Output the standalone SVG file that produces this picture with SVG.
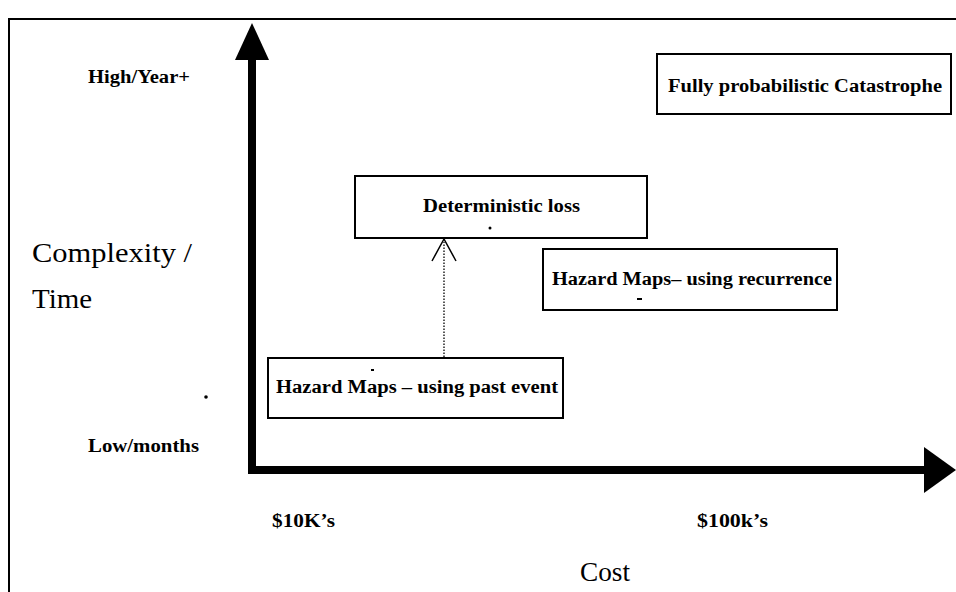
<svg xmlns="http://www.w3.org/2000/svg" width="956" height="592" viewBox="0 0 956 592">
  <style>
    .frame { fill: none; stroke: #000; stroke-width: 2; }
    .box { fill: #fff; stroke: #000; stroke-width: 2; }
    .axis { stroke: #000; stroke-width: 8; fill: none; }
    .head { fill: #000; }
    .lbl { font-family: "Liberation Serif", "Times New Roman", serif; font-weight: bold; font-size: 18px; fill: #000; }
    .big { font-family: "Liberation Serif", "Times New Roman", serif; font-size: 27px; fill: #000; }
    .dotted { stroke: #000; stroke-width: 1.3; stroke-dasharray: 1.5 1.5; fill: none; }
    .open { stroke: #000; stroke-width: 1.5; fill: none; }
    .speck { fill: #000; }
  </style>
  <rect width="956" height="592" fill="#fff"/>

  <!-- page frame -->
  <path class="frame" d="M9,592 V19 H956"/>

  <!-- axes -->
  <g id="axes">
    <path class="axis" d="M252,60 V470 H926"/>
    <polygon class="head" points="252,23 235,60 269,60"/>
    <polygon class="head" points="956,470 924,447 924,493"/>
  </g>

  <!-- axis labels -->
  <g id="y-labels">
    <text class="lbl" x="88" y="83" textLength="102" lengthAdjust="spacingAndGlyphs">High/Year+</text>
    <text class="big" x="32" y="262" textLength="160" lengthAdjust="spacingAndGlyphs">Complexity /</text>
    <text class="big" x="32" y="308" textLength="60" lengthAdjust="spacingAndGlyphs">Time</text>
    <text class="lbl" x="88" y="452" textLength="111" lengthAdjust="spacingAndGlyphs">Low/months</text>
  </g>
  <g id="x-labels">
    <text class="lbl" x="272" y="527" textLength="63" lengthAdjust="spacingAndGlyphs">$10K’s</text>
    <text class="lbl" x="697" y="527" textLength="71" lengthAdjust="spacingAndGlyphs">$100k’s</text>
    <text class="big" x="580" y="581" textLength="50" lengthAdjust="spacingAndGlyphs">Cost</text>
  </g>

  <!-- method boxes -->
  <g id="fully-probabilistic">
    <rect class="box" x="657" y="54" width="294" height="60"/>
    <text class="lbl" x="668" y="92" textLength="274" lengthAdjust="spacingAndGlyphs">Fully probabilistic Catastrophe</text>
  </g>
  <g id="deterministic-loss">
    <rect class="box" x="355" y="176" width="292" height="62"/>
    <text class="lbl" x="423" y="212" textLength="157" lengthAdjust="spacingAndGlyphs">Deterministic loss</text>
    <circle class="speck" cx="490" cy="228" r="1.5"/>
  </g>
  <g id="hazard-recurrence">
    <rect class="box" x="543" y="249" width="294" height="61"/>
    <text class="lbl" x="552" y="285" textLength="280" lengthAdjust="spacingAndGlyphs">Hazard Maps– using recurrence</text>
    <rect class="speck" x="637" y="298" width="5" height="2"/>
  </g>
  <g id="hazard-past-event">
    <rect class="box" x="268" y="358" width="295" height="60"/>
    <text class="lbl" x="276" y="393" textLength="282" lengthAdjust="spacingAndGlyphs">Hazard Maps – using past event</text>
    <rect class="speck" x="371" y="369" width="3" height="2"/>
  </g>

  <!-- connectors -->
  <g id="connectors">
    <path class="dotted" d="M444,357 V242"/>
    <path class="open" d="M432,261 L444,239 L456,261"/>
  </g>

  <circle class="speck" cx="206" cy="397" r="1.8"/>
</svg>
